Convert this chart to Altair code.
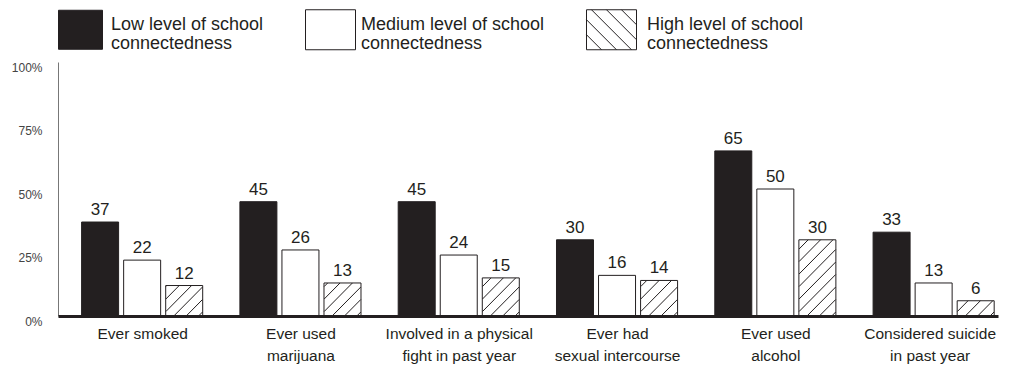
import json
import altair as alt
import pandas as pd

# ---- data ----
categories = [
    "Ever smoked",
    "Ever used|marijuana",
    "Involved in a physical|fight in past year",
    "Ever had|sexual intercourse",
    "Ever used|alcohol",
    "Considered suicide|in past year",
]
levels = [
    "Low level of school|connectedness",
    "Medium level of school|connectedness",
    "High level of school|connectedness",
]
low_values = [37, 45, 45, 30, 65, 33]
medium_values = [22, 26, 24, 16, 50, 13]
high_values = [12, 13, 15, 14, 30, 6]
y_ticks = [0, 25, 50, 75, 100]

# ---- geometry / style ----
INK = "#231f20"
GROUP_PX = 160.0          # pixels per category
PLOT_H = 254
X_DOMAIN = [-0.5, 5.375]
PLOT_W = int(round((X_DOMAIN[1] - X_DOMAIN[0]) * GROUP_PX))
BAR_PX = 37
STEP = 42.5 / GROUP_PX    # bar offset inside a group (data units)
PX_PER_PCT = PLOT_H / 100.0

rows = []
for i, cat in enumerate(categories):
    for j, (lev, vals) in enumerate(zip(levels, [low_values, medium_values, high_values])):
        rows.append({"cat": cat, "gi": i, "li": j, "level": lev, "value": vals[i]})
df = pd.DataFrame(rows)

# hatch lines ("/") inside the high-level bars, computed from the bar values
HATCH_SP = 12.5
hatch = []
for i, v in enumerate(high_values):
    cx = i + STEP
    w = BAR_PX
    h = v * PX_PER_PCT
    c = -w + 4.0
    while c < h:
        p1 = max(0.0, -c)
        p2 = min(w, h - c)
        if p2 - p1 > 0.8:
            hatch.append({
                "x": cx + (p1 - w / 2) / GROUP_PX,
                "y": (p1 + c) / PX_PER_PCT,
                "x2": cx + (p2 - w / 2) / GROUP_PX,
                "y2": (p2 + c) / PX_PER_PCT,
            })
        c += HATCH_SP
hatch_df = pd.DataFrame(hatch)

# legend symbol paths (unit = half of sqrt(symbolSize))
R = 25.0
def box(wpx, hpx, dx=0.0):
    a, b = wpx / 2 / R, hpx / 2 / R
    d = dx / R
    return f"M{d - a:.4f},{-b:.4f}H{d + a:.4f}V{b:.4f}H{d - a:.4f}Z"

def hatched_box(wpx, hpx, sp, dx=0.0):
    p = box(wpx, hpx, dx)
    hw, hh = wpx / 2, hpx / 2
    k = -4
    while k <= 4:
        c = k * sp   # line: x - y = c (px, centred)
        x1, y1 = c - hh, -hh
        if x1 < -hw:
            x1, y1 = -hw, -hw - c
        x2, y2 = c + hh, hh
        if x2 > hw:
            x2, y2 = hw, hw - c
        if x2 - x1 > 1 and y1 < hh and y2 > -hh:
            p += f"M{(x1 + dx) / R:.4f},{y1 / R:.4f}L{(x2 + dx) / R:.4f},{y2 / R:.4f}"
        k += 1
    return p

shape_paths = [box(44, 39), box(50, 40), hatched_box(50, 40, 15, dx=-5)]
fill_colors = [INK, "#ffffff", "#ffffff"]

x_scale = alt.Scale(domain=X_DOMAIN, nice=False, zero=False)
y_scale = alt.Scale(domain=[0, 100], nice=False)
color_scale = alt.Scale(domain=levels, range=fill_colors)
shape_scale = alt.Scale(domain=levels, range=shape_paths)

label_expr = "split(" + json.dumps(categories) + "[datum.value], '|')"

base = alt.Chart(df).transform_calculate(
    xpos=f"datum.gi + (datum.li - 1) * {STEP}"
)

x_enc = alt.X(
    "xpos:Q",
    scale=x_scale,
    axis=alt.Axis(
        values=list(range(len(categories))),
        labelExpr=label_expr,
        title=None,
        ticks=False,
        grid=False,
        domainColor=INK,
        domainWidth=3,
        labelFont="Liberation Sans",
        labelFontSize=15.5,
        labelColor=INK,
        labelBaseline="top",
        labelPadding=10,
        labelLineHeight=22,
        labelAlign="center",
        labelOffset={"condition": {"test": f"datum.value == {len(categories) - 1}", "value": -4}, "value": 0},
        zindex=2,
    ),
)
y_enc = alt.Y(
    "value:Q",
    scale=y_scale,
    axis=alt.Axis(
        values=y_ticks,
        labelExpr="datum.value + '%'",
        title=None,
        ticks=False,
        grid=False,
        domainColor="#777777",
        domainWidth=1,
        labelFont="Liberation Sans",
        labelFontSize=12,
        labelColor="#444444",
        labelPadding=16,
        labelOffset=5,
    ),
)

legend_cfg = dict(
    title=None,
    orient="none",
    legendX=-3,
    legendY=-58,
    direction="horizontal",
    columnPadding=39,
    labelExpr="split(datum.label, '|')",
    labelFont="Liberation Sans",
    labelFontSize=18,
    labelColor=INK,
    labelLimit=400,
    labelOffset=5,
    labelBaseline="alphabetic",
    symbolSize=int(4 * R * R),
    symbolStrokeColor=INK,
    symbolStrokeWidth=1,
    symbolOpacity=1,
)

# invisible points that only carry the legend (colour + symbol per level);
# first in the layer so that its legend settings win the merge
legend_layer = base.mark_point(
    filled=True, stroke=INK, strokeWidth=1, opacity=0
).encode(
    x=x_enc,
    y=y_enc,
    color=alt.Color("level:N", scale=color_scale, legend=alt.Legend(**legend_cfg)),
    shape=alt.Shape("level:N", scale=shape_scale, legend=alt.Legend(**legend_cfg)),
)

bars = base.mark_bar(size=BAR_PX, stroke=INK, strokeWidth=1).encode(
    x=alt.X("xpos:Q", scale=x_scale),
    y=alt.Y("value:Q", scale=y_scale),
    color=alt.Color("level:N", scale=color_scale),
)

texts = base.mark_text(
    baseline="alphabetic", dy=-7, fontSize=17, font="Liberation Sans", color=INK
).encode(
    x=alt.X("xpos:Q", scale=x_scale),
    y=alt.Y("value:Q", scale=y_scale),
    text=alt.Text("value:Q"),
)

hatch_lines = alt.Chart(hatch_df).mark_rule(color=INK, strokeWidth=1).encode(
    x=alt.X("x:Q", scale=x_scale),
    y=alt.Y("y:Q", scale=y_scale),
    x2="x2:Q",
    y2="y2:Q",
)

chart = alt.layer(legend_layer, bars, hatch_lines, texts).properties(
    width=PLOT_W,
    height=PLOT_H,
    autosize=alt.AutoSizeParams(type="none"),
    padding={"left": 50, "top": 54, "right": 3, "bottom": 53},
).configure(
    style={"guide-label": {"lineHeight": 19}}
).configure_view(stroke=None)

chart.save("out.html", embed_options={"renderer": "svg", "actions": False})
